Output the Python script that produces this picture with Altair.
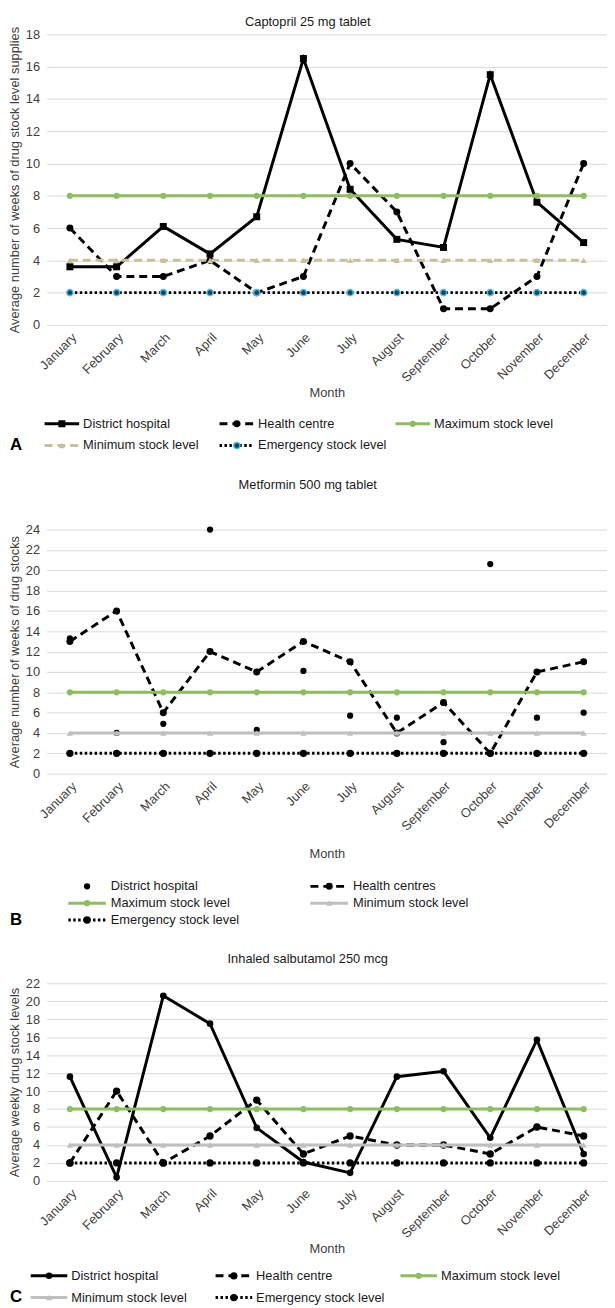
import altair as alt
import pandas as pd

# ---------------- data ----------------
MONTHS = ["January", "February", "March", "April", "May", "June", "July",
          "August", "September", "October", "November", "December"]

# Panel A: Captopril 25 mg tablet
A_DH = [3.6, 3.6, 6.1, 4.4, 6.7, 16.5, 8.4, 5.3, 4.8, 15.5, 7.6, 5.1]
A_HC = [6, 3, 3, 4, 2, 3, 10, 7, 1, 1, 3, 10]
A_MAX = [8, 8, 8, 8, 8, 8, 8, 8, 8, 8, 8, 8]
A_MIN = [4, 4, 4, 4, 4, 4, 4, 4, 4, 4, 4, 4]
A_EMERG = [2, 2, 2, 2, 2, 2, 2, 2, 2, 2, 2, 2]
A_TICKS = [0, 2, 4, 6, 8, 10, 12, 14, 16, 18]

# Panel B: Metformin 500 mg tablet
B_DH = [13.3, 4.0, 4.9, 24.0, 4.3, 10.1, 5.7, 5.5, 3.1, 20.6, 5.5, 6.0]
B_HC = [13, 16, 6, 12, 10, 13, 11, 4, 7, 2, 10, 11]
B_MAX = [8, 8, 8, 8, 8, 8, 8, 8, 8, 8, 8, 8]
B_MIN = [4, 4, 4, 4, 4, 4, 4, 4, 4, 4, 4, 4]
B_EMERG = [2, 2, 2, 2, 2, 2, 2, 2, 2, 2, 2, 2]
B_TICKS = [0, 2, 4, 6, 8, 10, 12, 14, 16, 18, 20, 22, 24]

# Panel C: Inhaled salbutamol 250 mcg
C_DH = [11.6, 0.4, 20.6, 17.5, 5.9, 2.1, 0.9, 11.6, 12.2, 4.8, 15.7, 3.0]
C_HC = [2, 10, 2, 5, 9, 3, 5, 4, 4, 3, 6, 5]
C_MAX = [8, 8, 8, 8, 8, 8, 8, 8, 8, 8, 8, 8]
C_MIN = [4, 4, 4, 4, 4, 4, 4, 4, 4, 4, 4, 4]
C_EMERG = [2, 2, 2, 2, 2, 2, 2, 2, 2, 2, 2, 2]
C_TICKS = [0, 2, 4, 6, 8, 10, 12, 14, 16, 18, 20, 22]

# ---------------- styles ----------------
FONT = "Liberation Sans"
TXT = "#404040"
GRID = "#D9D9D9"
BLACK = "#000000"
GREEN = "#8DBE5E"
TAN = "#C8C09B"
GREY = "#BFBFBF"
CYAN = "#45C1E2"
NAVY = "#1F3F66"
W = 567
DASH = [8, 5]
DOT = [2.5, 2.5]


def style(color, width=3, dash=None, shape=None, size=45, fill=None, stroke=None, sw=0, line=True):
    return dict(color=color, width=width, dash=dash, shape=shape, size=size,
                fill=fill if fill else color, stroke=stroke if stroke else color,
                sw=sw, line=line)


def x_enc(title_pad):
    return alt.X("Month:N", scale=alt.Scale(type="point", padding=0.5, domain=MONTHS),
                 axis=alt.Axis(title="Month", labelAngle=-45, labelPadding=6,
                               titlePadding=title_pad, ticks=False, domain=False, grid=False))


def y_enc(title, ymax, ticks):
    return alt.Y("Value:Q", scale=alt.Scale(domain=[0, ymax], nice=False, zero=True),
                 axis=alt.Axis(title=title, values=ticks, grid=True, gridColor=GRID,
                               gridWidth=1, domain=False, ticks=False,
                               labelPadding=7, titlePadding=4))


def series_layers(values, st, xe, ye):
    df = pd.DataFrame({"Month": MONTHS, "Value": values})
    layers = []
    if st["line"]:
        kw = dict(color=st["color"], strokeWidth=st["width"])
        if st["dash"]:
            kw["strokeDash"] = st["dash"]
        layers.append(alt.Chart(df).mark_line(**kw).encode(x=xe, y=ye))
    if st["shape"]:
        layers.append(alt.Chart(df).mark_point(
            shape=st["shape"], filled=True, size=st["size"], fill=st["fill"],
            stroke=st["stroke"], strokeWidth=st["sw"], opacity=1).encode(x=xe, y=ye))
    return layers


def legend_layers(entries, cols_x, rows_y, sym_len, gap, ncols):
    layers = []
    for i, (label, st) in enumerate(entries):
        sx = cols_x[i % ncols]
        yy = rows_y[i // ncols]
        one = pd.DataFrame({"label": [label]})
        if st["line"]:
            kw = dict(color=st["color"], strokeWidth=st["width"])
            if st["dash"]:
                kw["strokeDash"] = st["dash"]
            layers.append(alt.Chart(one).mark_rule(**kw).encode(
                x=alt.value(sx), x2=alt.value(sx + sym_len), y=alt.value(yy)))
        if st["shape"]:
            layers.append(alt.Chart(one).mark_point(
                shape=st["shape"], filled=True, size=st["size"], fill=st["fill"],
                stroke=st["stroke"], strokeWidth=st["sw"], opacity=1).encode(
                x=alt.value(sx + sym_len / 2), y=alt.value(yy)))
        layers.append(alt.Chart(one).mark_text(
            align="left", baseline="middle", fontSize=13, font=FONT, color="#1a1a1a").encode(
            x=alt.value(sx + sym_len + gap), y=alt.value(yy), text="label:N"))
    return layers


def letter_layer(letter, yy):
    one = pd.DataFrame({"label": [letter]})
    return alt.Chart(one).mark_text(
        align="left", baseline="middle", fontSize=17, fontWeight="bold",
        font=FONT, color=BLACK).encode(x=alt.value(-37), y=alt.value(yy), text="label:N")


def panel(title, ytitle, ymax, ticks, series, legend_cfg, letter, height,
          title_offset, x_title_pad):
    xe = x_enc(x_title_pad)
    ye = y_enc(ytitle, ymax, ticks)
    layers = []
    for values, label, st in series:
        layers += series_layers(values, st, xe, ye)
    entries = [(label, st) for values, label, st in series]
    cols_x, rows_y, sym_len, gap, ncols = legend_cfg
    layers += legend_layers(entries, cols_x, rows_y, sym_len, gap, ncols)
    layers.append(letter_layer(letter, rows_y[-1]))
    return alt.layer(*layers).properties(
        width=W, height=height,
        title=alt.TitleParams(title, fontSize=13, fontWeight="normal", font=FONT,
                              color="#1a1a1a", anchor="middle", frame="bounds",
                              offset=title_offset))


# ---------------- panels ----------------
A_series = [
    (A_DH, "District hospital", style(BLACK, shape="square", size=50)),
    (A_HC, "Health centre", style(BLACK, dash=DASH, shape="circle", size=50)),
    (A_MAX, "Maximum stock level", style(GREEN, shape="circle", size=40)),
    (A_MIN, "Minimum stock level", style(TAN, dash=DASH, shape="triangle-up", size=40)),
    (A_EMERG, "Emergency stock level", style(BLACK, dash=DOT, shape="circle", size=40,
                                              fill=NAVY, stroke=CYAN, sw=1.5)),
]
B_series = [
    (B_DH, "District hospital", style(BLACK, shape="circle", size=40, line=False)),
    (B_HC, "Health centres", style(BLACK, dash=DASH, shape="circle", size=50)),
    (B_MAX, "Maximum stock level", style(GREEN, shape="circle", size=40)),
    (B_MIN, "Minimum stock level", style(GREY, shape="triangle-up", size=40)),
    (B_EMERG, "Emergency stock level", style(BLACK, dash=DOT, shape="circle", size=55)),
]
C_series = [
    (C_DH, "District hospital", style(BLACK, shape="circle", size=45)),
    (C_HC, "Health centre", style(BLACK, dash=DASH, shape="circle", size=55)),
    (C_MAX, "Maximum stock level", style(GREEN, shape="circle", size=40)),
    (C_MIN, "Minimum stock level", style(GREY, shape="triangle-up", size=40)),
    (C_EMERG, "Emergency stock level", style(BLACK, dash=DOT, shape="circle", size=55)),
]

chart_a = panel("Captopril 25 mg tablet",
                "Average number of weeks of drug  stock level supplies",
                18, A_TICKS, A_series,
                ([-2, 175, 353], [394, 416], 35, 4, 3), "A", 294, -5, 2)
chart_b = panel("Metformin 500 mg tablet",
                "Average number of weeks of drug stocks",
                24, B_TICKS, B_series,
                ([22, 267], [361, 378, 395], 38, 5, 2), "B", 247, 32, 15)
chart_c = panel("Inhaled salbutamol 250 mcg",
                "Average weekly drug stock levels",
                22, C_TICKS, C_series,
                ([-16, 171, 358], [296, 318], 37, 4, 3), "C", 200, 11, 2)

chart = alt.vconcat(chart_a, chart_b, chart_c, spacing=26).properties(
    padding=0
).configure_view(stroke=None).configure_axis(
    labelFont=FONT, titleFont=FONT, labelFontSize=13, titleFontSize=13,
    labelColor=TXT, titleColor=TXT, titleFontWeight="normal"
)

chart.save("out.html", embed_options={"renderer": "svg", "actions": False})
